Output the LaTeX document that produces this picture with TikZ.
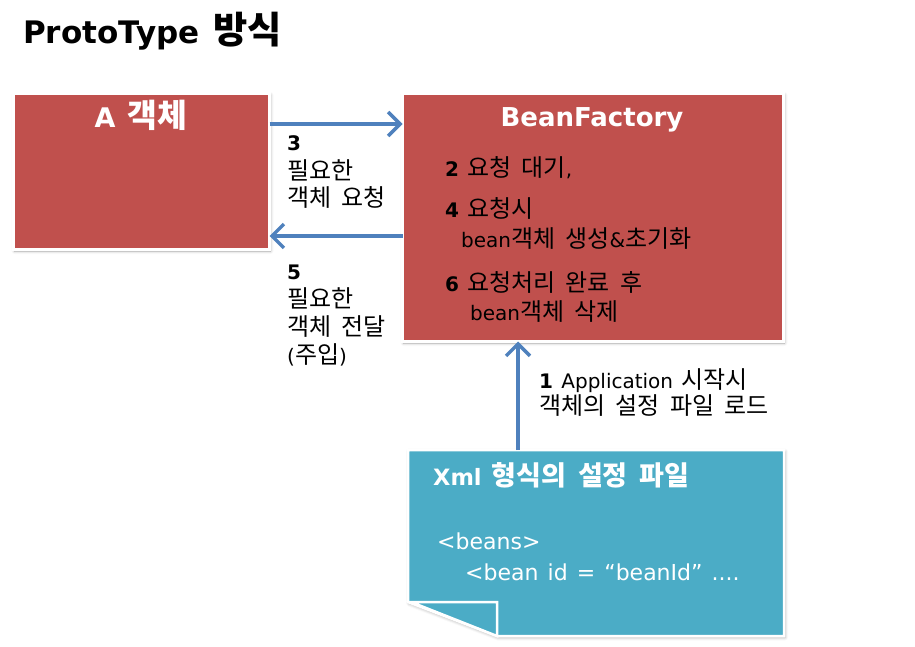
\documentclass[tikz,border=0pt]{standalone}
\usepackage{fontspec}
\setmainfont[WordSpace=1.3]{DejaVu Sans}
\newfontfamily\krfont[Scale=1.2,WordSpace=1.9]{Noto Sans CJK KR}
\newcommand\K[1]{{\krfont #1}}
\usetikzlibrary{arrows.meta,shadows.blur}
\definecolor{boxred}{HTML}{C0504D}
\definecolor{docaqua}{HTML}{4BACC6}
\definecolor{arrblue}{HTML}{4F81BD}
\begin{document}
\begin{tikzpicture}[x=1pt,y=1pt,
  redbox/.style={draw=white, line width=3pt, fill=boxred, inner sep=0pt, outer sep=0pt,
    blur shadow={shadow xshift=1pt, shadow yshift=-1.5pt, shadow blur radius=3pt, shadow opacity=35}},
  txt/.style={anchor=base west, inner sep=0pt, font=\fontsize{20}{24}\selectfont},
  wtxt/.style={anchor=base west, inner sep=0pt, text=white, font=\fontsize{22}{26}\selectfont},
  btitle/.style={anchor=base, inner sep=0pt, text=white, font=\fontsize{26}{30}\selectfont\bfseries},
  arr/.style={draw=arrblue, line width=3.5pt, -{Straight Barb[length=12pt,width=24pt]}},
  docshape/.style={fill=docaqua, draw=white, line width=2.5pt, line join=miter}
]
\useasboundingbox (0,0) rectangle (915,-647);

% title
\node[anchor=base west, inner sep=0pt, font=\fontsize{31}{34}\selectfont\bfseries] (title) at (23,-44) {ProtoType \K{방식}};

% boxes
\node[redbox, anchor=north west, minimum width=256pt, minimum height=156pt] (a) at (13.5,-93.5) {};
\node[redbox, anchor=north west, minimum width=381pt, minimum height=248pt] (bf) at (402.5,-93.5) {};
\node[btitle, font=\fontsize{27}{30}\selectfont\bfseries] (atitle) at (141,-128) {A \K{객체}};
\node[btitle] (bftitle) at (592,-127) {BeanFactory};

% document
\node[inner sep=0pt, outer sep=0pt, anchor=north west, minimum width=376pt, minimum height=186pt] (doc) at (408,-450) {};
\path[docshape, blur shadow={shadow xshift=1pt, shadow yshift=-1.5pt, shadow blur radius=3pt, shadow opacity=35}]
  (doc.north west) -- (doc.north east) -- (doc.south east) -- (497,-636) -- (408,-602) -- cycle;
\path[docshape] (411,-602) -- (497,-602) -- (497,-636) -- cycle;
\node[wtxt, font=\fontsize{22.5}{26}\selectfont\bfseries] (doct) at (433,-485) {Xml \K{형식의 설정 파일}};
\node[wtxt] (docl1) at (437,-549) {<beans>};
\node[wtxt] (docl2) at (465,-580) {<bean id = “beanId” ....};

% arrows
\coordinate (y1) at (0,-124);
\coordinate (y2) at (0,-236);
\coordinate (ax) at (518,0);
\draw[arr] (a.east |- y1) -- (bf.west |- y1);
\draw[arr] (bf.west |- y2) -- (a.east |- y2);
\draw[arr] (doc.north -| ax) -- (bf.south -| ax);

% labels between boxes
\node[txt] (l3a) at (287,-151) {\textbf{3}};
\node[txt] (l3b) at (287,-179) {\K{필요한}};
\node[txt] (l3c) at (287,-207) {\K{객체 요청}};
\node[txt] (l5a) at (287,-279) {\textbf{5}};
\node[txt] (l5b) at (287,-307) {\K{필요한}};
\node[txt] (l5c) at (287,-335) {\K{객체 전달}};
\node[txt] (l5d) at (287,-363) {(\K{주입})};

% BeanFactory contents
\node[txt] (b2) at (445,-177) {\textbf{2} \K{요청 대기},};
\node[txt] (b4a) at (445,-218) {\textbf{4} \K{요청시}};
\node[txt] (b4b) at (461,-247) {bean\K{객체 생성}\&\K{초기화}};
\node[txt] (b6a) at (445,-291) {\textbf{6} \K{요청처리 완료 후}};
\node[txt] (b6b) at (470,-320) {bean\K{객체 삭제}};

% label 1
\node[txt] (l1a) at (539,-388) {\textbf{1} Application \K{시작시}};
\node[txt] (l1b) at (539,-414) {\K{객체의 설정 파일 로드}};
\end{tikzpicture}
\end{document}
